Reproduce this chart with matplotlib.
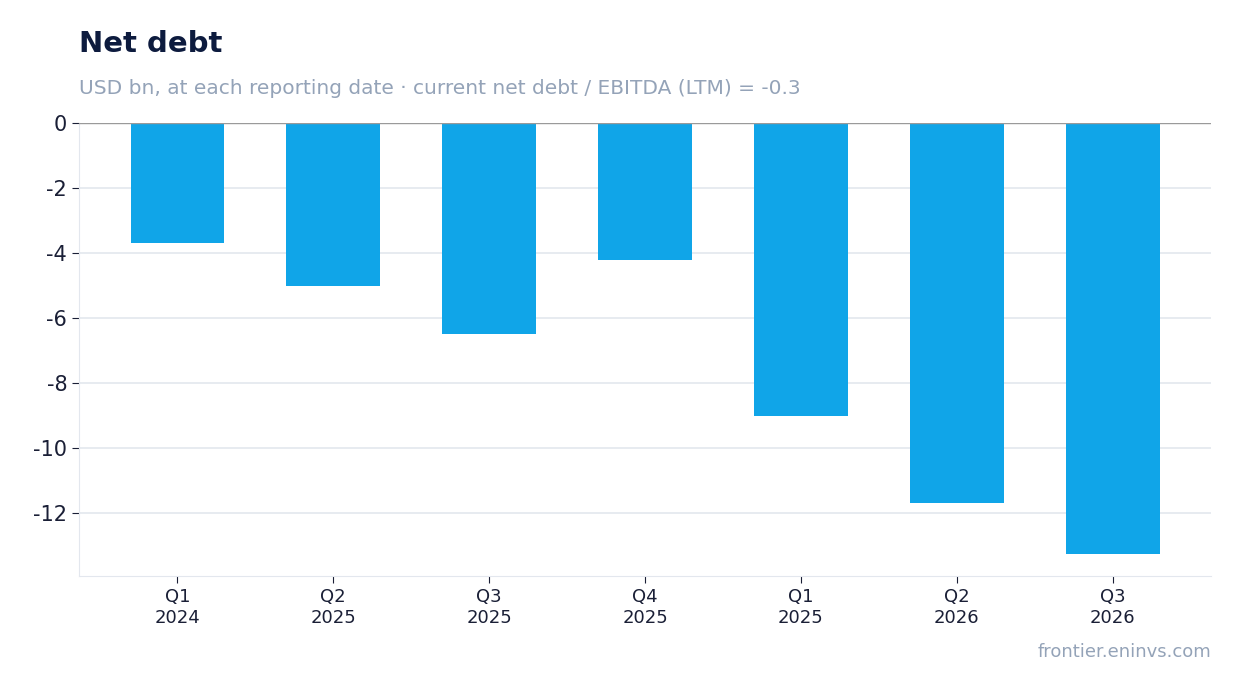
import matplotlib
matplotlib.use("Agg")
import matplotlib.pyplot as plt

quarters = ["Q1\n2024", "Q2\n2025", "Q3\n2025", "Q4\n2025", "Q1\n2025", "Q2\n2026", "Q3\n2026"]
net_debt = [-3.7, -5.02, -6.5, -4.22, -9.02, -11.7, -13.27]
yticks = [0, -2, -4, -6, -8, -10, -12]

fig = plt.figure(figsize=(12.41, 6.93), dpi=100)
ax = fig.add_axes([0.0637, 0.1688, 0.9121, 0.6537])
x = list(range(len(quarters)))
ax.bar(x, net_debt, width=0.6, color="#10a5e8", zorder=3)
ax.axhline(0, color="#9a9a9a", lw=1, zorder=4)
ax.set_xlim(-0.63, 6.63)
ax.set_ylim(-13.94, 0)
ax.set_yticks(yticks)
ax.set_yticklabels([str(v).replace("-", "-") for v in yticks], fontsize=15, color="#1a1f36")
ax.set_xticks(x)
ax.set_xticklabels(quarters, fontsize=13, color="#1a1f36")
ax.grid(axis="y", color="#e3e7ee", lw=1.2, zorder=0)
for s in ["top", "right"]:
    ax.spines[s].set_visible(False)
for s in ["left", "bottom"]:
    ax.spines[s].set_color("#e3e7ee")
ax.tick_params(axis="y", length=5, color="#1a1f36")
ax.tick_params(axis="x", length=5, color="#1a1f36")

fig.text(79/1241, 1-44/693, "Net debt", fontsize=21, fontweight="bold", color="#0d1b3e", va="center")
fig.text(79/1241, 1-88/693, "USD bn, at each reporting date · current net debt / EBITDA (LTM) = -0.3",
         fontsize=14.5, color="#94a3b8", va="center")
fig.text(1211/1241, 1-652/693, "frontier.eninvs.com", fontsize=13, color="#94a3b8", va="center", ha="right")
fig.savefig("out.png", dpi=100)
